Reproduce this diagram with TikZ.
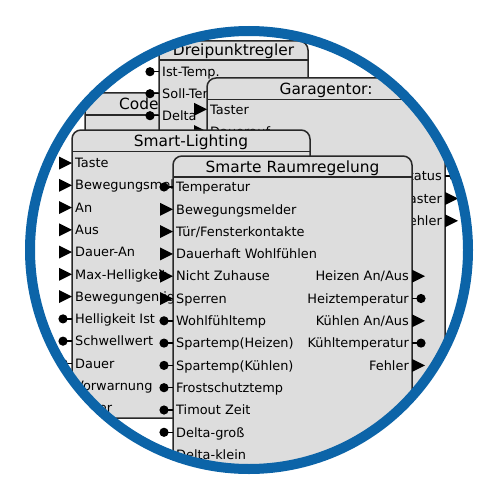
\documentclass[tikz,border=0pt]{standalone}
\usepackage{fontspec}
\setmainfont{DejaVu Sans}
\definecolor{ringblue}{RGB}{12,100,168}
\definecolor{blockgray}{RGB}{221,221,221}
\definecolor{edgecol}{RGB}{40,40,40}
\newcommand{\lblfont}{\fontsize{12.9}{15}\selectfont}
\newcommand{\ttlfont}{\fontsize{15.4}{18}\selectfont}
\tikzset{
  blk/.style={fill=blockgray, draw=edgecol, line width=1.5pt, rounded corners=9pt},
  sepline/.style={draw=edgecol, line width=1.5pt},
  pinline/.style={draw=black, line width=1.5pt},
  lbl/.style={font=\lblfont, inner sep=0pt, anchor=base west, text=black},
  lblr/.style={font=\lblfont, inner sep=0pt, anchor=base east, text=black},
  ttl/.style={font=\ttlfont, inner sep=0pt, anchor=base, text=black},
}
% input dot: edge x, row y
\newcommand{\pdotin}[2]{\draw[pinline] (#1-9,#2) -- (#1,#2); \fill[black] (#1-9,#2) circle (4.6);}
\newcommand{\ptrin}[2]{\fill[black] (#1,#2) -- (#1-13,#2-6.5) -- (#1-13,#2+6.5) -- cycle;}
\newcommand{\pdotout}[2]{\draw[pinline] (#1,#2) -- (#1+9,#2); \fill[black] (#1+9,#2) circle (4.6);}
\newcommand{\ptrout}[2]{\fill[black] (#1,#2-6.5) -- (#1+13,#2) -- (#1,#2+6.5) -- cycle;}
\begin{document}
\begin{tikzpicture}[x=1pt,y=-1pt]
\useasboundingbox (0,0) rectangle (500,500);
\begin{scope}
\clip (249,250) circle (219);
\fill[white] (0,0) rectangle (500,500);
% ---------- Code block
\draw[blk] (85,93) rectangle (260,300);
\draw[sepline] (85,115) -- (260,115);
\node[ttl, anchor=base west] (codet) at (119,109.6) {Code};
% ---------- Dreipunktregler
\draw[blk] (159,41) rectangle (308,230);
\draw[sepline] (159,60) -- (308,60);
\node[ttl] (drt) at (233.5,56) {Dreipunktregler};
\pdotin{159}{71.7} \node[lbl] (dr1) at (162,76.4) {Ist-Temp.};
\pdotin{159}{93.7} \node[lbl] (dr2) at (162,98.4) {Soll-Temp.};
\pdotin{159}{115.7} \node[lbl] (dr3) at (162,120.4) {Delta};
% ---------- Garagentor
\draw[blk] (207,78) rectangle (445,430);
\draw[sepline] (207,99.5) -- (445,99.5);
\node[ttl] (gat) at (326,94.4) {Garagentor:};
\ptrin{207}{109.3} \node[lbl] (ga1) at (210,114) {Taster};
\ptrin{207}{131.6} \node[lbl] (ga2) at (210,136.3) {Dauerauf};
\pdotout{445}{176.2} \node[lblr] (ga3) at (442,180.9) {Status};
\ptrout{445}{198.5} \node[lblr] (ga4) at (442,203.2) {Taster};
\ptrout{445}{220.8} \node[lblr] (ga5) at (442,225.5) {Fehler};
% ---------- Smart-Lighting
\draw[blk] (72,130) rectangle (310,418);
\draw[sepline] (72,151.5) -- (310,151.5);
\node[ttl] (slt) at (191,146.4) {Smart-Lighting};
\foreach \t [count=\i from 0] in {Taste,Bewegungsmelder,An,Aus,Dauer-An,Max-Helligkeit,Bewegungen ignorieren}{
  \pgfmathsetmacro{\yy}{163+22.27*\i}
  \ptrin{72}{\yy}
  \node[lbl] (sl\i) at (75,\yy+4.7) {\t};
}
\foreach \t [count=\i from 7] in {Helligkeit Ist,Schwellwert,Dauer,Vorwarnung,Timer}{
  \pgfmathsetmacro{\yy}{163+22.27*\i}
  \pdotin{72}{\yy}
  \node[lbl] (sl\i) at (75,\yy+4.7) {\t};
}
% ---------- Smarte Raumregelung
\draw[blk] (173,156) rectangle (412,520);
\draw[sepline] (173,177) -- (412,177);
\node[ttl] (rrt) at (292.5,172.1) {Smarte Raumregelung};
\pdotin{173}{187} \node[lbl] (rr0) at (176,191.7) {Temperatur};
\foreach \t [count=\i from 1] in {Bewegungsmelder,Tür/Fensterkontakte,Dauerhaft Wohlfühlen,Nicht Zuhause,Sperren}{
  \pgfmathsetmacro{\yy}{187+22.3*\i}
  \ptrin{173}{\yy}
  \node[lbl] (rr\i) at (176,\yy+4.7) {\t};
}
\foreach \t [count=\i from 6] in {Wohlfühltemp,Spartemp(Heizen),Spartemp(Kühlen),Frostschutztemp,Timout Zeit,Delta-groß,Delta-klein}{
  \pgfmathsetmacro{\yy}{187+22.3*\i}
  \pdotin{173}{\yy}
  \node[lbl] (rr\i) at (176,\yy+4.7) {\t};
}
\ptrout{412}{276.2} \node[lblr] (ro1) at (409,280.9) {Heizen An/Aus};
\pdotout{412}{298.5} \node[lblr] (ro2) at (409,303.2) {Heiztemperatur};
\ptrout{412}{320.8} \node[lblr] (ro3) at (409,325.5) {Kühlen An/Aus};
\pdotout{412}{343.1} \node[lblr] (ro4) at (409,347.8) {Kühltemperatur};
\ptrout{412}{365.4} \node[lblr] (ro5) at (409,370.1) {Fehler};
\end{scope}
\draw[ringblue, line width=10pt] (249,250) circle (219);
\end{tikzpicture}
\end{document}
